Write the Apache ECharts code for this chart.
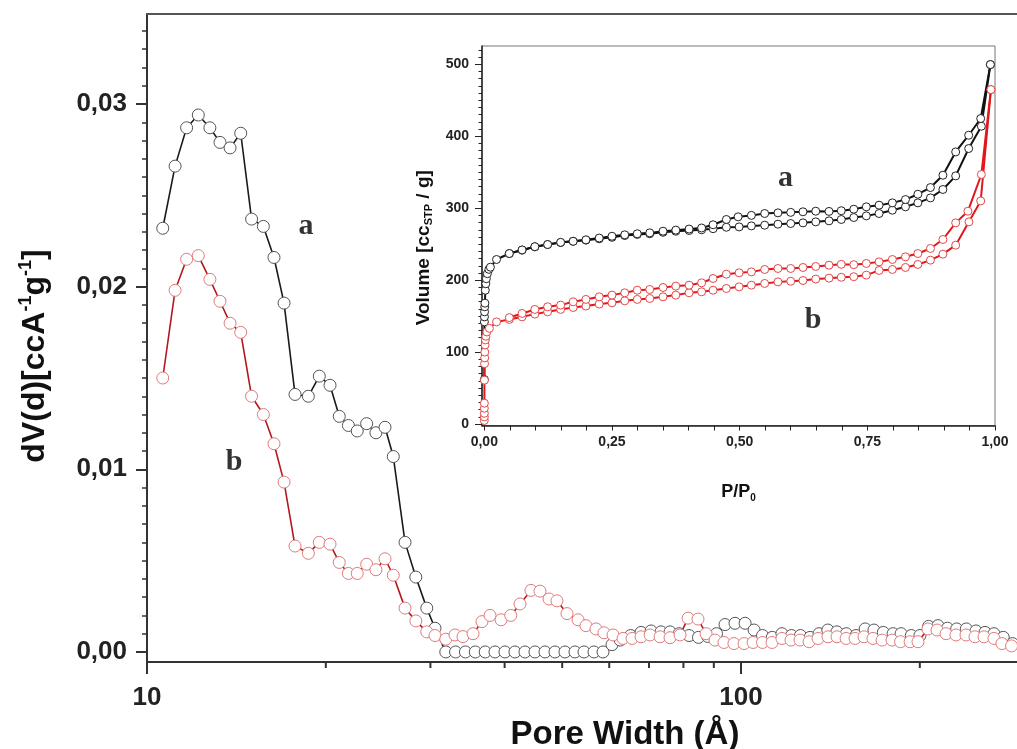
<!DOCTYPE html>
<html>
<head>
<meta charset="utf-8">
<script src="https://cdn.jsdelivr.net/npm/echarts@6/dist/echarts.min.js"></script>
<style>
html,body{margin:0;padding:0;background:#fff}
#chart{width:1017px;height:749px}
</style>
</head>
<body>
<div id="chart"></div>
<script>
// ---------- Pore size distribution (main chart): [pore width Å, dV(d)] ----------
const psdA = [
[10.63,0.0232],[11.15,0.0266],[11.66,0.0287],[12.20,0.0294],[12.76,0.0287],[13.27,0.0279],[13.80,0.0276],[14.38,0.0284],
[15.00,0.0237],[15.70,0.0233],[16.36,0.0216],[17.01,0.0191],[17.75,0.0141],[18.69,0.0140],[19.50,0.0151],[20.33,0.0146],
[21.07,0.0129],[21.83,0.0124],[22.59,0.0121],[23.43,0.0125],[24.29,0.0120],[25.16,0.0123],[25.98,0.0107],[27.19,0.0060],
[28.35,0.0041],[29.58,0.0024],[30.54,0.0013],[31.84,0.0000],
[33.07,0],[34.36,0],[35.70,0],[37.10,0],[38.53,0],[40.05,0],[41.63,0],[43.28,0],[44.99,0],[46.77,0],[48.62,0],[50.54,0],
[52.54,0],[54.41,0],[56.56,0],[58.57,0],
[60.65,0.0004],[62.6,0.00065],[65.2,0.0009],[67.88,0.00107],[70.57,0.00115],[73.35,0.0011],[75.95,0.0011],[78.65,0.0010],
[81.76,0.0009],[84.8,0.0008],[87.9,0.00085],[90.95,0.0010],[94.0,0.0015],[97.7,0.00157],[101.6,0.00157],[105.2,0.0012],
[108.7,0.0009],[112.9,0.0008],[117.2,0.0010],[121.6,0.0009],[125.9,0.0009],[130.7,0.0008],[135.3,0.0010],[140.0,0.0012],
[145.0,0.0011],[150.4,0.0010],[156.2,0.0009],[161.8,0.00126],[167.4,0.0012],[173.6,0.00107],[180.3,0.0010],[186.0,0.0010],
[193.5,0.0009],[200.1,0.0009],[206.9,0.0014],[214.6,0.00144],[222.6,0.0013],[230.7,0.00126],[239.5,0.00126],[248.6,0.00115],
[257.5,0.00107],[266.6,0.0010],[276.4,0.0008],[286.5,0.00046]
];
const psdB = [
[10.63,0.0150],[11.15,0.0198],[11.66,0.0215],[12.20,0.0217],[12.76,0.0204],[13.27,0.0192],[13.80,0.0180],[14.38,0.0175],
[15.00,0.0140],[15.70,0.0130],[16.36,0.0114],[17.01,0.0093],[17.75,0.0058],[18.69,0.0054],[19.50,0.0060],[20.33,0.0059],
[21.07,0.0049],[21.83,0.0043],[22.59,0.0043],[23.43,0.0048],[24.29,0.0045],[25.16,0.0051],[25.98,0.0042],[27.19,0.0024],
[28.35,0.0017],[29.58,0.0011],[30.54,0.0009],[31.84,0.0007],[33.0,0.00093],[34.04,0.00084],[35.39,0.0010],[36.64,0.00166],
[37.8,0.0020],[39.45,0.00176],[40.96,0.0020],[42.46,0.00263],[44.3,0.00337],[45.88,0.00333],[47.51,0.0029],[49.0,0.0028],
[50.94,0.0021],[53.17,0.00176],[54.83,0.00144],[57.0,0.00126],[58.8,0.00105],[60.89,0.00093],[63.3,0.00074],[65.56,0.00074],
[67.88,0.00083],[70.3,0.00093],[73.07,0.00083],[75.95,0.00078],[78.96,0.00093],[81.45,0.00185],[84.65,0.0018],[87.34,0.0010],
[90.42,0.00065],[93.6,0.00052],[97.3,0.00046],[101.2,0.00046],[104.8,0.00052],[108.7,0.00052],[112.8,0.00052],[117.2,0.00074],
[121.4,0.00065],[125.7,0.00065],[130.2,0.00056],[134.8,0.00074],[140.1,0.00083],[145.1,0.00083],[150.3,0.00074],[155.6,0.00074],
[161.1,0.00083],[166.8,0.00074],[172.8,0.00065],[179.6,0.00065],[185.6,0.00056],[192.6,0.00056],[198.6,0.00056],[206.4,0.00126],
[213.8,0.0012],[221.4,0.0010],[230.1,0.00093],[239.2,0.00093],[247.7,0.00083],[256.5,0.00083],[266.6,0.00074],[275.0,0.00046],
[285.4,0.00033]
];

// ---------- Isotherms (inset): [P/P0, Volume cc/g] ----------
const isoA_ads = [
[0.0001,62],[0.0002,142],[0.0003,149],[0.0005,156],[0.0008,163],[0.0012,168],[0.002,186],[0.003,195],[0.004,202],[0.006,209],
[0.009,215],[0.012,218],[0.024,228.7],[0.049,237],[0.074,241.7],[0.099,246.3],[0.124,249.5],[0.1495,252.3],[0.174,254],
[0.199,255.6],[0.225,257.5],[0.25,259.5],[0.275,262],[0.2995,263.5],[0.324,264.5],[0.35,266.5],[0.375,268],[0.401,269],
[0.4255,270],[0.448,271.5],[0.474,273.5],[0.499,274],[0.523,275.4],[0.549,276.4],[0.575,277.8],[0.6,278.7],[0.624,279.6],
[0.649,281],[0.675,282.4],[0.699,284.3],[0.7235,287],[0.748,289.3],[0.773,292.6],[0.799,297.2],[0.8247,301.9],[0.849,307.4],
[0.8736,314.3],[0.898,326],[0.923,344.9],[0.9485,382.9],[0.9733,413.9],[0.991,499.6]
];
const isoA_des = [
[0.991,499.6],[0.972,424.6],[0.9485,401.4],[0.923,378.2],[0.898,345.8],[0.8736,328.7],[0.849,319.4],[0.8247,312],[0.799,307.4],
[0.773,304.2],[0.748,301.9],[0.7235,298.6],[0.699,296.5],[0.675,295.5],[0.649,295.8],[0.624,295],[0.6,294.2],[0.575,293.5],
[0.549,292.6],[0.523,290],[0.497,288],[0.474,284.3],[0.448,277],[0.4255,272.5],[0.401,271],[0.375,269.5],[0.35,268],
[0.324,265.7],[0.2995,264.5],[0.275,263],[0.25,261],[0.225,258.5],[0.199,256],[0.174,254],[0.1495,252.5],[0.124,249.5],
[0.099,246.5],[0.074,242],[0.049,237]
];
const isoB_ads = [
[0.00002,5],[0.00004,10],[0.00006,15],[0.0001,22],[0.00015,29],[0.0003,61],[0.0005,84],[0.0008,92],[0.001,100],[0.0015,110],
[0.002,117],[0.003,122],[0.005,128],[0.01,133],[0.024,142],[0.049,145.4],[0.074,149],[0.099,152.8],[0.124,156],[0.1495,159.3],
[0.174,162],[0.199,164],[0.225,166.7],[0.25,168.5],[0.275,171.3],[0.2995,173.2],[0.324,174.5],[0.35,176.8],[0.375,179.2],
[0.401,182.4],[0.4255,183.8],[0.448,186],[0.474,188.4],[0.499,190.7],[0.523,193],[0.549,195.4],[0.575,197.6],[0.6,198.5],
[0.624,199.5],[0.649,201.5],[0.675,202.8],[0.699,204],[0.7235,204.8],[0.748,207],[0.773,213.5],[0.799,214.8],[0.8247,217.6],
[0.849,221.8],[0.8736,227.8],[0.898,236.1],[0.923,248.6],[0.949,281],[0.972,310.1],[0.992,464.8]
];
const isoB_des = [
[0.992,464.8],[0.9733,346.8],[0.947,295.8],[0.923,279.6],[0.898,256.5],[0.8736,244],[0.849,237],[0.8247,232.4],[0.799,228.7],
[0.773,225.4],[0.748,223.2],[0.7235,221.5],[0.699,222],[0.675,220.8],[0.649,219],[0.624,217.6],[0.6,216.2],[0.575,216.2],
[0.549,214.8],[0.523,211.5],[0.499,210.2],[0.474,208.3],[0.448,202.3],[0.4255,196.3],[0.401,193],[0.375,191.7],[0.35,189.8],
[0.324,187],[0.2995,186],[0.275,182.4],[0.25,179.2],[0.225,176.8],[0.199,173.2],[0.174,169.9],[0.1495,165.3],[0.124,163],
[0.099,159.3],[0.074,153.7],[0.049,148]
];

// ---------- Ticks and annotations ----------
const mainYTicks = [0, 0.01, 0.02, 0.03];
const mainXMinorTicks = [20, 30, 40, 50, 60, 70, 80, 90, 200];
const insetXLabels = [0, 0.25, 0.5, 0.75, 1.0];
const insetYTicks = [0, 100, 200, 300, 400, 500];
const mainAnnotations = [[18.52, 0.02332, 'a'], [14.01, 0.0104, 'b']];
const insetAnnotations = [[0.590, 341.7, 'a'], [0.6437, 144.4, 'b']];

const mainYMinor = [];
for (let i = 1; i <= 34; i++) { if (i % 10) mainYMinor.push(i / 1000); }
const insetYMinor = [];
for (let v = 10; v <= 520; v += 10) { if (v % 100) insetYMinor.push(v); }
const insetXTicks = [];
for (let i = 0; i <= 20; i++) insetXTicks.push(+(i * 0.05).toFixed(2));

const FONT = "'Liberation Sans', Arial, sans-serif";
const SERIF = "'Liberation Serif', 'Times New Roman', serif";
const MAIN_X_MIN = 10, MAIN_X_MAX = 291.5;
const MAIN_Y_MIN = -0.00055, MAIN_Y_MAX = 0.03493;
const INS_Y_MIN = -2, INS_Y_MAX = 525.4;
const comma = (v, d) => Number(v).toFixed(d).replace('.', ',');

const chart = echarts.init(document.getElementById('chart'), null, {renderer: 'canvas'});

const tickLabelMain = {fontSize: 26, fontWeight: 'bold', color: '#222', fontFamily: FONT};
const tickLabelInset = {fontSize: 14, fontWeight: 'bold', color: '#222', fontFamily: FONT};

function lineSeries(data, xi, yi, lineColor, lw, border, size, z) {
  return {
    type: 'line', xAxisIndex: xi, yAxisIndex: yi, data: data,
    symbol: 'circle', symbolSize: size, showAllSymbol: true, z: z,
    lineStyle: {color: lineColor, width: lw},
    itemStyle: {color: '#fff', borderColor: border, borderWidth: 1},
    emphasis: {disabled: true}, silent: true
  };
}
function labelSeries(data, xi, yi) {
  return {
    type: 'scatter', xAxisIndex: xi, yAxisIndex: yi, data: data, symbolSize: 1, z: 10,
    itemStyle: {color: 'transparent'}, silent: true,
    label: {show: true, position: 'inside', formatter: p => p.data[2],
      fontFamily: SERIF, fontWeight: 'bold', fontSize: 30, color: '#000'}
  };
}

const option = {
  animation: false,
  backgroundColor: '#fff',
  grid: [
    {left: 147, top: 14, right: 0, height: 648, outerBoundsMode: 'none', containLabel: false},
    {left: 482, top: 46, width: 513, height: 379.5, outerBoundsMode: 'none', containLabel: false,
     show: true, borderColor: '#777', borderWidth: 1, backgroundColor: '#fff'}
  ],
  xAxis: [
    {
      type: 'log', logBase: 10, gridIndex: 0, min: MAIN_X_MIN, max: MAIN_X_MAX, position: 'bottom',
      axisLine: {onZero: false, lineStyle: {color: '#333', width: 2}},
      axisTick: {length: 12, lineStyle: {color: '#333', width: 2}},
      axisLabel: Object.assign({margin: 23, showMaxLabel: false}, tickLabelMain),
      splitLine: {show: false},
      name: 'Pore Width (Å)', nameLocation: 'middle', nameGap: 56,
      nameTextStyle: {fontSize: 33, fontWeight: 'bold', color: '#111', fontFamily: FONT, padding: [0, 0, 0, 86]}
    },
    {
      type: 'value', gridIndex: 1, min: -0.0045, max: 1.0,
      axisLine: {onZero: false, lineStyle: {color: '#222', width: 1.5}},
      axisTick: {customValues: insetXTicks, length: 5, lineStyle: {color: '#222', width: 1}},
      axisLabel: Object.assign({customValues: insetXLabels, margin: 10, formatter: v => comma(v, 2)}, tickLabelInset),
      splitLine: {show: false},
      name: '{m|P/P}{s|0}', nameLocation: 'middle', nameGap: 56,
      nameTextStyle: {color: '#111', rich: {
        m: {fontSize: 18, fontWeight: 'bold', fontFamily: FONT, color: '#111', lineHeight: 22},
        s: {fontSize: 10, fontWeight: 'bold', fontFamily: FONT, color: '#111', lineHeight: 10, verticalAlign: 'bottom'}
      }}
    },
    {
      type: 'log', logBase: 10, gridIndex: 0, min: MAIN_X_MIN, max: MAIN_X_MAX, position: 'top',
      axisLine: {onZero: false, lineStyle: {color: '#555', width: 2}},
      axisTick: {show: false}, axisLabel: {show: false}, splitLine: {show: false}
    }
  ],
  yAxis: [
    {
      type: 'value', gridIndex: 0, min: MAIN_Y_MIN, max: MAIN_Y_MAX, position: 'left',
      axisLine: {show: true, onZero: false, lineStyle: {color: '#333', width: 2}},
      axisTick: {show: true, customValues: mainYTicks, length: 11, lineStyle: {color: '#333', width: 2}},
      axisLabel: Object.assign({customValues: mainYTicks, margin: 20, formatter: v => comma(v, 2)}, tickLabelMain),
      splitLine: {show: false},
      name: '{m|dV(d)[ccA}{s|-1}{m|g}{s|-1}{m|]}', nameLocation: 'middle', nameGap: 94,
      nameTextStyle: {color: '#111', padding: [0, 36, 0, 0], rich: {
        m: {fontSize: 32, fontWeight: 'bold', fontFamily: FONT, color: '#111', lineHeight: 36},
        s: {fontSize: 18, fontWeight: 'bold', fontFamily: FONT, color: '#111', lineHeight: 16, verticalAlign: 'top'}
      }}
    },
    {
      type: 'value', gridIndex: 0, min: MAIN_Y_MIN, max: MAIN_Y_MAX, position: 'left',
      axisLine: {show: false, onZero: false},
      axisTick: {show: true, customValues: mainYMinor, length: 5, lineStyle: {color: '#333', width: 1.5}},
      axisLabel: {show: false}, splitLine: {show: false}
    },
    {
      type: 'value', gridIndex: 1, min: INS_Y_MIN, max: INS_Y_MAX, position: 'left',
      axisLine: {show: true, onZero: false, lineStyle: {color: '#222', width: 1.5}},
      axisTick: {show: true, customValues: insetYTicks, length: 7, lineStyle: {color: '#222', width: 1}},
      axisLabel: Object.assign({customValues: insetYTicks, margin: 13}, tickLabelInset),
      splitLine: {show: false},
      name: '{m|Volume [cc}{s|STP}{m| / g]}', nameLocation: 'middle', nameGap: 46,
      nameTextStyle: {color: '#111', padding: [0, 24, 0, 0], rich: {
        m: {fontSize: 19, fontWeight: 'bold', fontFamily: FONT, color: '#111', lineHeight: 22},
        s: {fontSize: 11, fontWeight: 'bold', fontFamily: FONT, color: '#111', lineHeight: 11, verticalAlign: 'bottom'}
      }}
    },
    {
      type: 'value', gridIndex: 1, min: INS_Y_MIN, max: INS_Y_MAX, position: 'left',
      axisLine: {show: false, onZero: false},
      axisTick: {show: true, customValues: insetYMinor, length: 3.5, lineStyle: {color: '#222', width: 1}},
      axisLabel: {show: false}, splitLine: {show: false}
    }
  ],
  series: [
    lineSeries(psdA, 0, 0, '#1a1a1a', 1.6, '#555', 12, 3),
    lineSeries(psdB, 0, 0, '#b3181c', 1.6, '#e07b7b', 12, 4),
    {
      type: 'custom', xAxisIndex: 0, yAxisIndex: 0, silent: true, clip: false, z: 5,
      data: mainXMinorTicks.map(v => [v, MAIN_Y_MIN]),
      encode: {x: 0, y: 1},
      renderItem: function (params, api) {
        const p = api.coord([api.value(0), MAIN_Y_MIN]);
        return {type: 'line', shape: {x1: p[0], y1: p[1], x2: p[0], y2: p[1] + 6},
          style: {stroke: '#333', lineWidth: 2}};
      }
    },
    labelSeries(mainAnnotations, 0, 0),
    lineSeries(isoA_ads, 1, 2, '#111', 2, '#222', 8, 3),
    lineSeries(isoA_des, 1, 2, '#111', 2, '#222', 8, 3),
    lineSeries(isoB_ads, 1, 2, '#e3161b', 2, '#e54848', 8, 4),
    lineSeries(isoB_des, 1, 2, '#e3161b', 2, '#e54848', 8, 4),
    labelSeries(insetAnnotations, 1, 2)
  ]
};
chart.setOption(option);
</script>
</body>
</html>
